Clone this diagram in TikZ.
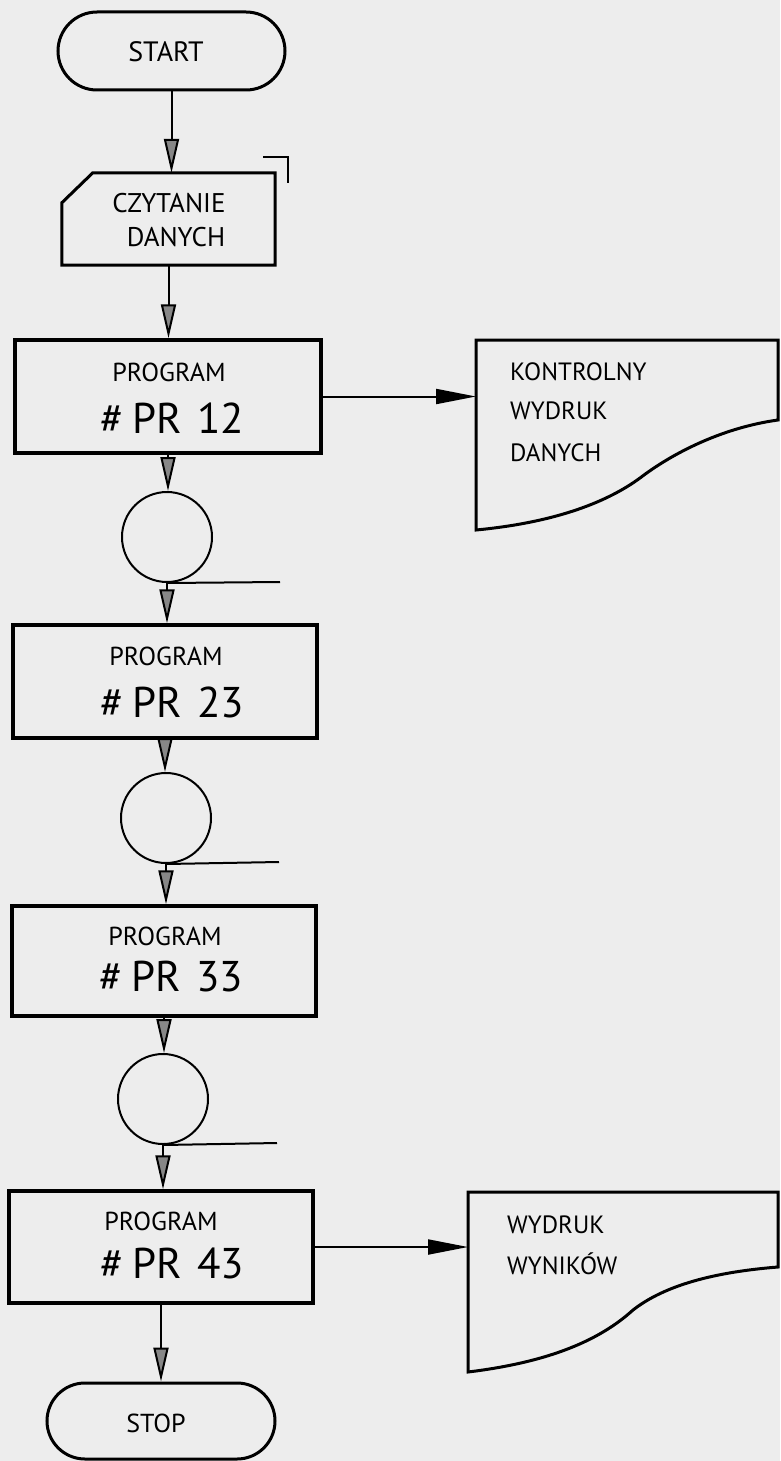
\documentclass[tikz,border=0pt]{standalone}
\usepackage{fontspec}
\setmainfont{PT Sans}
\usetikzlibrary{arrows.meta,shapes.misc,calc}
\definecolor{paper}{RGB}{237,237,237}
\definecolor{tipgray}{RGB}{135,135,135}
\begin{document}
\begin{tikzpicture}[x=1pt,y=-1pt,
  term/.style={rounded rectangle, draw, line width=3pt, minimum width=227pt, minimum height=78pt, inner sep=0pt},
  prbox/.style={draw, line width=3.5pt, minimum width=304pt, minimum height=112pt, inner sep=0pt},
  joint/.style={draw, circle, line width=2pt, minimum size=90pt, inner sep=0pt},
  lbl/.style={font=\fontsize{26}{30}\selectfont, inner sep=0pt},
  cardlbl/.style={font=\fontsize{27}{31}\selectfont, inner sep=0pt},
  termlbl/.style={font=\fontsize{28}{32}\selectfont, inner sep=0pt},
  biglbl/.style={font=\fontsize{43}{47}\selectfont, inner sep=0pt},
  doclbl/.style={font=\fontsize{25}{29}\selectfont, inner sep=0pt, anchor=west},
  flow/.style={line width=2pt, -{Triangle[width=15pt,length=34pt,fill=tipgray]}},
  outarrow/.style={line width=2pt, -{Triangle[width=15pt,length=40pt]}},
  docline/.style={line width=3pt, line join=miter},
]
\fill[paper] (0,0) rectangle (780,1461);
\useasboundingbox (0,0) rectangle (780,1461);

% START
\node[term] (start) at (171.5,51) {};
\node[termlbl] (startt) at (166,52) {START};

% card
\node[minimum width=213pt, minimum height=92pt, inner sep=0pt] (card) at (168.5,219) {};
\draw[line width=3pt, line join=miter] ($(card.north west)+(31,0)$) -- (card.north east) -- (card.south east) -- (card.south west) -- ($(card.north west)+(0,30)$) -- cycle;
\node[cardlbl] (cz) at (169,203) {CZYTANIE};
\node[cardlbl] (dn) at (176,237) {DANYCH};
\draw[line width=2.5pt, line join=miter] (263,157) -- (288,157) -- (288,183);

% program boxes
\node[prbox, minimum width=306pt, minimum height=113pt] (pr12) at (168,396.5) {};
\node[lbl] (pr12a) at (169,372) {PROGRAM};
\node[biglbl] (pr12b) at (172,418) {\#\hspace{9pt}PR\hspace{15pt}12};

\node[joint] (c1) at (167,537) {};
\coordinate (t1) at (280,582);

\node[prbox, minimum height=113pt] (pr23) at (165,681.5) {};
\node[lbl] (pr23a) at (166,656) {PROGRAM};
\node[biglbl] (pr23b) at (172,702) {\#\hspace{9pt}PR\hspace{15pt}23};

\node[joint] (c2) at (166,818) {};
\coordinate (t2) at (279,862);

\node[prbox, minimum height=110pt] (pr33) at (164,961) {};
\node[lbl] (pr33a) at (165,936) {PROGRAM};
\node[biglbl] (pr33b) at (171,977) {\#\hspace{9pt}PR\hspace{15pt}33};

\node[joint] (c3) at (163,1099) {};
\coordinate (t3) at (277,1143);

\node[prbox] (pr43) at (161,1247) {};
\node[lbl] (pr43a) at (161,1221) {PROGRAM};
\node[biglbl] (pr43b) at (172,1263) {\#\hspace{9pt}PR\hspace{15pt}43};

% STOP
\node[term, minimum width=228pt, minimum height=76pt] (stop) at (161,1421) {};
\node[termlbl, font=\fontsize{26}{30}\selectfont] (stopt) at (156,1423) {STOP};

% documents
\coordinate (d1) at (476,396.5);
\draw[docline] (476,530) -- (476,340) -- (778,340) -- (778,420)
  .. controls (720,428) and (670,455) .. (640,478)
  .. controls (610,500) and (560,522) .. (476,530) -- cycle;
\node[doclbl] (k1) at (510,372) {KONTROLNY};
\node[doclbl] (k2) at (510,411) {WYDRUK};
\node[doclbl] (k3) at (510,453) {DANYCH};

\coordinate (d2) at (468,1247);
\draw[docline] (468,1372) -- (468,1192) -- (778,1192) -- (778,1267)
  .. controls (715,1272) and (665,1285) .. (633,1310)
  .. controls (600,1340) and (550,1362) .. (468,1372) -- cycle;
\node[doclbl] (w1) at (507,1225) {WYDRUK};
\node[doclbl] (w2) at (507,1264) {WYNIKÓW};

% connectors
\draw[flow] (start.south) -- (start.south |- card.north);
\draw[flow] (card.south) -- (card.south |- pr12.north);
\draw[flow] (pr12.south) -- (pr12.south |- c1.north);
\draw[flow] (c1.south) -- (c1.south |- pr23.north);
\draw[flow] (pr23.south) -- (pr23.south |- c2.north);
\draw[flow] (c2.south) -- (c2.south |- pr33.north);
\draw[flow] (pr33.south) -- (pr33.south |- c3.north);
\draw[flow] (c3.south) -- (c3.south |- pr43.north);
\draw[flow] (pr43.south) -- (pr43.south |- stop.north);

\draw[line width=2pt] (c1.south) -- (t1);
\draw[line width=2pt] (c2.south) -- (t2);
\draw[line width=2pt] (c3.south) -- (t3);

\draw[outarrow] (pr12.east) -- (d1);
\draw[outarrow] (pr43.east) -- (d2);
\end{tikzpicture}
\end{document}
